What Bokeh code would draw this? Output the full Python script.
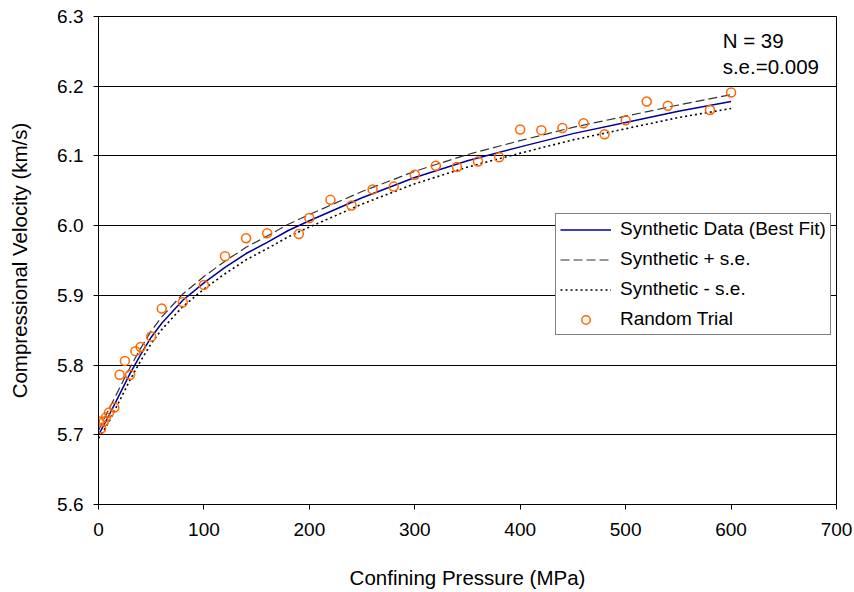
from bokeh.plotting import figure
from bokeh.models import Legend, LegendItem, Label, FixedTicker, NumeralTickFormatter, Range1d
from bokeh.embed import file_html
from bokeh.resources import INLINE

# Fitted curves
fit_x = [0, 5, 10, 20, 30, 40, 50, 60, 80, 100, 120, 140, 160, 180, 200, 250, 300, 350, 400, 450, 500, 550, 600]
best_fit = [5.700, 5.714, 5.728, 5.758, 5.788, 5.815, 5.840, 5.860, 5.893, 5.918, 5.940, 5.960, 5.976, 5.993, 6.007,
            6.040, 6.069, 6.093, 6.113, 6.132, 6.148, 6.164, 6.178]
plus_se = [5.706, 5.722, 5.737, 5.767, 5.797, 5.824, 5.849, 5.869, 5.902, 5.927, 5.949, 5.969, 5.985, 6.002, 6.016,
           6.049, 6.078, 6.102, 6.122, 6.141, 6.157, 6.173, 6.188]
minus_se = [5.695, 5.706, 5.719, 5.749, 5.779, 5.806, 5.831, 5.851, 5.884, 5.909, 5.931, 5.951, 5.967, 5.984, 5.998,
            6.031, 6.060, 6.084, 6.104, 6.123, 6.139, 6.155, 6.168]

# Random trial points
trial_x = [1, 2.5, 5, 7, 10, 15, 20, 25, 30, 35, 40, 50, 60, 80, 100, 120, 140, 160, 190, 200,
           220, 240, 260, 280, 300, 320, 340, 360, 380, 400, 420, 440, 460, 480, 500, 520, 540, 580, 600]
trial_y = [5.719, 5.709, 5.719, 5.725, 5.732, 5.739, 5.786, 5.806, 5.786, 5.820, 5.826, 5.841, 5.881, 5.890,
           5.915, 5.956, 5.982, 5.989, 5.988, 6.011, 6.037, 6.029, 6.052, 6.056, 6.073, 6.086, 6.084, 6.092,
           6.098, 6.138, 6.137, 6.140, 6.147, 6.131, 6.151, 6.178, 6.172, 6.166, 6.191]

x_ticks = [0, 100, 200, 300, 400, 500, 600, 700]
y_ticks = [5.6, 5.7, 5.8, 5.9, 6.0, 6.1, 6.2, 6.3]

FONT = "Liberation Sans"

p = figure(width=854, height=592, output_backend="svg", toolbar_location=None,
           x_range=Range1d(0, 700), y_range=Range1d(5.6, 6.3),
           min_border_left=98, min_border_right=18, min_border_top=16, min_border_bottom=88)
p.background_fill_color = "white"
p.border_fill_color = "white"
p.outline_line_color = "black"
p.outline_line_width = 1

p.xgrid.visible = False
p.ygrid.ticker = FixedTicker(ticks=y_ticks)
p.ygrid.grid_line_color = "black"
p.ygrid.grid_line_width = 1

for ax in (p.xaxis[0], p.yaxis[0]):
    ax.axis_line_color = "black"
    ax.major_tick_line_color = "black"
    ax.minor_tick_line_color = None
    ax.major_tick_in = 0
    ax.major_tick_out = 5
    ax.major_label_text_font = FONT
    ax.major_label_text_font_size = "19px"
    ax.major_label_text_color = "black"
    ax.axis_label_text_font = FONT
    ax.axis_label_text_font_size = "20.5px"
    ax.axis_label_text_font_style = "normal"
    ax.axis_label_text_color = "black"

p.xaxis.ticker = FixedTicker(ticks=x_ticks)
p.yaxis.ticker = FixedTicker(ticks=y_ticks)
p.yaxis.formatter = NumeralTickFormatter(format="0.0")
p.xaxis.axis_label = "Confining Pressure (MPa)"
p.yaxis.axis_label = "Compressional Velocity (km/s)"
p.xaxis.major_label_standoff = 13
p.xaxis.axis_label_standoff = 27
p.yaxis.major_label_standoff = 10
p.yaxis.axis_label_standoff = 23

r_fit = p.line(fit_x, best_fit, line_color="#000099", line_width=1.5)
r_plus = p.line(fit_x, plus_se, line_color="#333333", line_width=1.2, line_dash="9 4")
r_minus = p.line(fit_x, minus_se, line_color="black", line_width=1.6, line_dash="2 3")
r_pts = p.scatter(trial_x, trial_y, marker="circle", size=9, fill_color=None,
                  line_color="#FF6600", line_width=1.5)

legend = Legend(items=[
    LegendItem(label="Synthetic Data (Best Fit)", renderers=[r_fit]),
    LegendItem(label="Synthetic + s.e.", renderers=[r_plus]),
    LegendItem(label="Synthetic - s.e.", renderers=[r_minus]),
    LegendItem(label="Random Trial", renderers=[r_pts]),
], location=(457, 169))
legend.margin = 0
legend.padding = 4
legend.spacing = 8
legend.glyph_width = 51
legend.glyph_height = 21
legend.label_height = 21
legend.label_standoff = 9
legend.label_text_font = FONT
legend.label_text_font_size = "19px"
legend.label_text_color = "black"
legend.border_line_color = "black"
legend.border_line_width = 1
legend.background_fill_color = "white"
legend.background_fill_alpha = 1
p.add_layout(legend)

p.add_layout(Label(x=592, y=6.266, text="N = 39", text_font=FONT, text_font_size="20.5px",
                   text_baseline="middle", text_color="black"))
p.add_layout(Label(x=592, y=6.228, text="s.e.=0.009", text_font=FONT, text_font_size="20.5px",
                   text_baseline="middle", text_color="black"))

open("out.html", "w").write(file_html(p, INLINE))
